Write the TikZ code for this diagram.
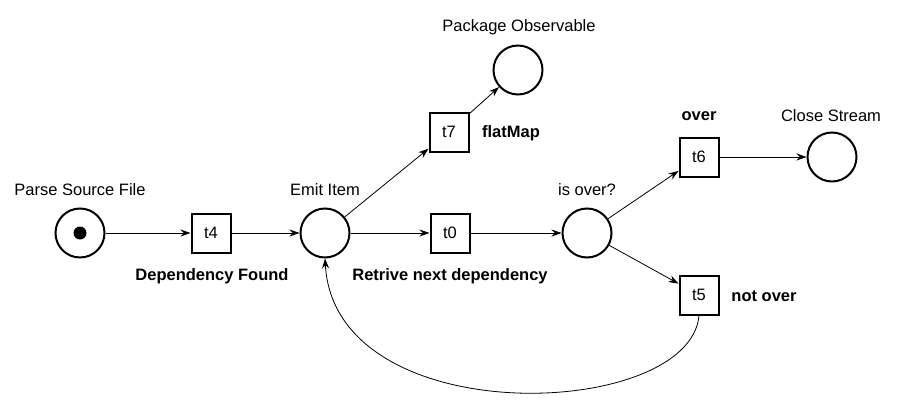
\documentclass[tikz,border=0pt]{standalone}
\usepackage{fontspec}
\setmainfont{Liberation Sans}
\usetikzlibrary{arrows.meta}
\begin{document}
\begin{tikzpicture}[x=1pt, y=-1pt,
    every node/.style={font=\fontsize{16.5}{19}\selectfont},
    place/.style={circle, draw, line width=2pt, minimum size=49pt, inner sep=0pt},
    trans/.style={rectangle, draw, line width=2pt, minimum size=39pt, inner sep=0pt},
    token/.style={circle, fill, minimum size=13pt, inner sep=0pt},
    bold/.style={font=\fontsize{16.5}{19}\selectfont\bfseries},
    arc/.style={-{Stealth[length=10pt, width=7pt]}, line width=0.8pt}]
    \useasboundingbox (0,0) rectangle (911,410);
    % places
    \node[place] (parse) at (80,233) {};
    \node[token] (tok) at (80,233) {};
    \node[place] (emit) at (325,233) {};
    \node[place] (pkg) at (518,70) {};
    \node[place] (isover) at (587,233) {};
    \node[place] (close) at (832,157) {};
    % transitions
    \node[trans] (t4) at (211,233) {t4};
    \node[trans] (t0) at (450,233) {t0};
    \node[trans] (t7) at (449,132) {t7};
    \node[trans] (t6) at (699,157) {t6};
    \node[trans] (t5) at (699,295) {t5};
    % labels
    \node (lparse) at (80,190) {Parse Source File};
    \node (lemit) at (325,190) {Emit Item};
    \node (lpkg) at (519,27) {Package Observable};
    \node (lisover) at (587,190) {is over?};
    \node (lclose) at (831,116) {Close Stream};
    \node[bold] (lt4) at (212,276) {Dependency Found};
    \node[bold] (lt0) at (450,276) {Retrive next dependency};
    \node[bold] (lt7) at (511,133) {flatMap};
    \node[bold] (lt6) at (699,116) {over};
    \node[bold] (lt5) at (764,296) {not over};
    % arcs
    \draw[arc] (parse) -- (t4);
    \draw[arc] (t4) -- (emit);
    \draw[arc] (emit) -- (t0);
    \draw[arc] (emit) -- (t7);
    \draw[arc] (t7) -- (pkg);
    \draw[arc] (t0) -- (isover);
    \draw[arc] (isover) -- (t6);
    \draw[arc] (isover) -- (t5);
    \draw[arc] (t6) -- (close);
    \draw[arc] (t5.south) .. controls (690,420) and (335,434) .. (emit.south); % loop back
\end{tikzpicture}
\end{document}
